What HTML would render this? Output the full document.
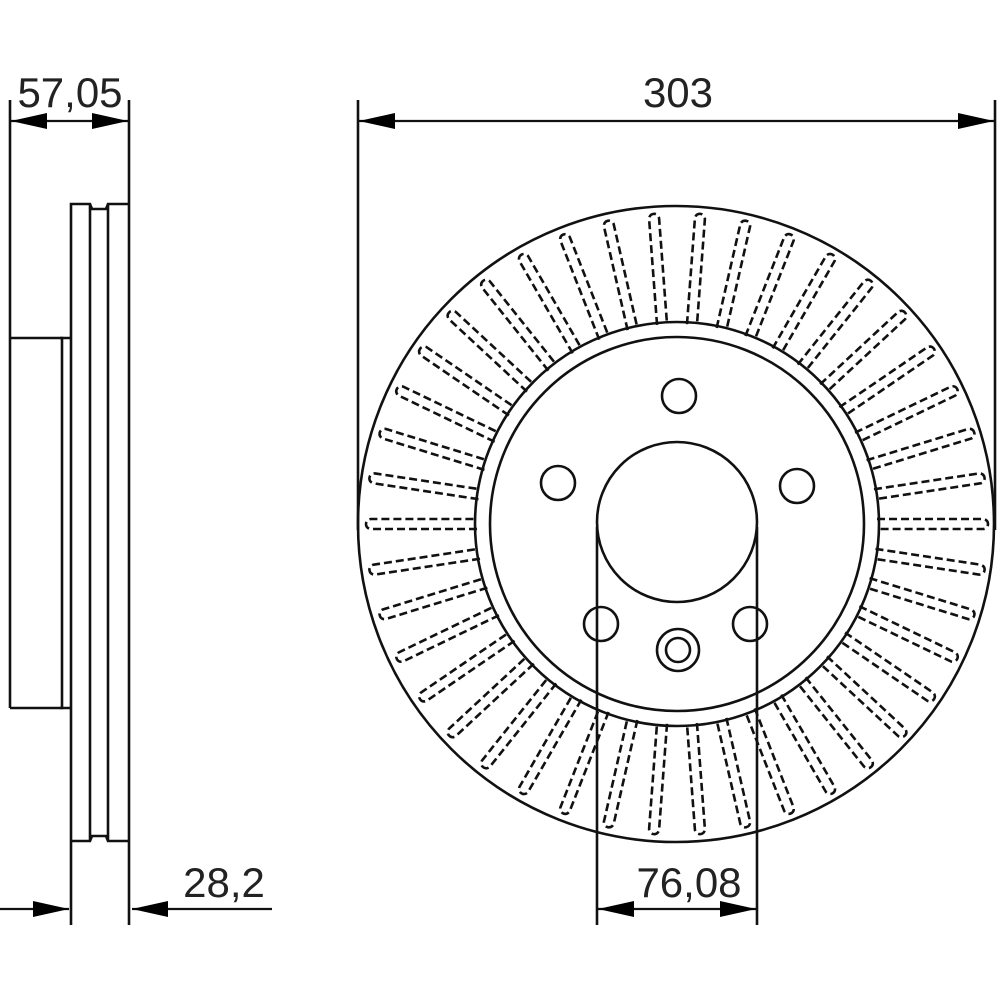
<!DOCTYPE html>
<html><head><meta charset="utf-8"><style>html,body{margin:0;padding:0;background:#fff}svg{display:block}</style></head>
<body>
<svg width="1000" height="1000" viewBox="0 0 1000 1000" xmlns="http://www.w3.org/2000/svg">
<defs>
<marker id="a" viewBox="0 0 36 16" refX="36" refY="8" markerWidth="36" markerHeight="16" markerUnits="userSpaceOnUse" orient="auto-start-reverse"><path d="M0,0L36,8L0,16z" fill="#000"/></marker>
<path id="slot" fill="none" stroke="#111" stroke-width="2.6" stroke-dasharray="8,4" d="M-5,-200 L-5,-306 A5,5 0 0 1 5,-306 L5,-200"/>
</defs>
<g fill="none" stroke="#111" stroke-width="2.6">
<line x1="10" y1="100" x2="10" y2="708"/>
<path d="M10,338 H62 V708 H10"/>
<path d="M60,338 H71 M60,708 H71"/>
<path d="M71,925 V204 H90 L92,209 H106 L108,204 H129"/>
<line x1="129" y1="100" x2="129" y2="925"/>
<line x1="90" y1="204" x2="90" y2="841"/>
<line x1="108" y1="204" x2="108" y2="841"/>
<path d="M71,841 H90 L92,836 H106 L108,841 H129"/>
<g stroke-width="2.2">
<line x1="11" y1="121" x2="128" y2="121" marker-start="url(#a)" marker-end="url(#a)"/>
<line x1="0" y1="909" x2="69" y2="909" marker-end="url(#a)"/>
<line x1="272" y1="909" x2="132" y2="909" marker-end="url(#a)"/>
<line x1="359" y1="121" x2="994" y2="121" marker-start="url(#a)" marker-end="url(#a)"/>
<line x1="598" y1="909" x2="756" y2="909" marker-start="url(#a)" marker-end="url(#a)"/>
</g>
<line x1="358" y1="100" x2="358" y2="530"/>
<line x1="995" y1="100" x2="995" y2="530"/>
<line x1="597" y1="527" x2="597" y2="925"/>
<line x1="757" y1="527" x2="757" y2="925"/>
<circle cx="676" cy="524" r="318"/>
<circle cx="677" cy="524" r="202"/>
<circle cx="677" cy="524" r="187"/>
<circle cx="677" cy="522" r="80"/>
<circle cx="679" cy="396" r="17"/>
<circle cx="558" cy="483" r="17"/>
<circle cx="797" cy="486" r="17"/>
<circle cx="601" cy="624" r="17"/>
<circle cx="750" cy="624" r="17"/>
<circle cx="678" cy="650" r="21"/>
<circle cx="678" cy="650" r="12"/>
</g>
<g transform="translate(677,524)">
<use href="#slot" transform="rotate(4.29)"/><use href="#slot" transform="rotate(12.86)"/><use href="#slot" transform="rotate(21.43)"/><use href="#slot" transform="rotate(30)"/><use href="#slot" transform="rotate(38.57)"/><use href="#slot" transform="rotate(47.14)"/><use href="#slot" transform="rotate(55.71)"/><use href="#slot" transform="rotate(64.29)"/><use href="#slot" transform="rotate(72.86)"/><use href="#slot" transform="rotate(81.43)"/><use href="#slot" transform="rotate(90)"/><use href="#slot" transform="rotate(98.57)"/><use href="#slot" transform="rotate(107.14)"/><use href="#slot" transform="rotate(115.71)"/><use href="#slot" transform="rotate(124.29)"/><use href="#slot" transform="rotate(132.86)"/><use href="#slot" transform="rotate(141.43)"/><use href="#slot" transform="rotate(150)"/><use href="#slot" transform="rotate(158.57)"/><use href="#slot" transform="rotate(167.14)"/><use href="#slot" transform="rotate(175.71)"/><use href="#slot" transform="rotate(184.29)"/><use href="#slot" transform="rotate(192.86)"/><use href="#slot" transform="rotate(201.43)"/><use href="#slot" transform="rotate(210)"/><use href="#slot" transform="rotate(218.57)"/><use href="#slot" transform="rotate(227.14)"/><use href="#slot" transform="rotate(235.71)"/><use href="#slot" transform="rotate(244.29)"/><use href="#slot" transform="rotate(252.86)"/><use href="#slot" transform="rotate(261.43)"/><use href="#slot" transform="rotate(270)"/><use href="#slot" transform="rotate(278.57)"/><use href="#slot" transform="rotate(287.14)"/><use href="#slot" transform="rotate(295.71)"/><use href="#slot" transform="rotate(304.29)"/><use href="#slot" transform="rotate(312.86)"/><use href="#slot" transform="rotate(321.43)"/><use href="#slot" transform="rotate(330)"/><use href="#slot" transform="rotate(338.57)"/><use href="#slot" transform="rotate(347.14)"/><use href="#slot" transform="rotate(355.71)"/>
</g>
<g font-family="Liberation Sans, sans-serif" font-size="42" fill="#222" text-anchor="middle">
<text x="70" y="107">57,05</text>
<text x="678" y="107">303</text>
<text x="224" y="897">28,2</text>
<text x="689" y="897">76,08</text>
</g>
</svg>
</body></html>
